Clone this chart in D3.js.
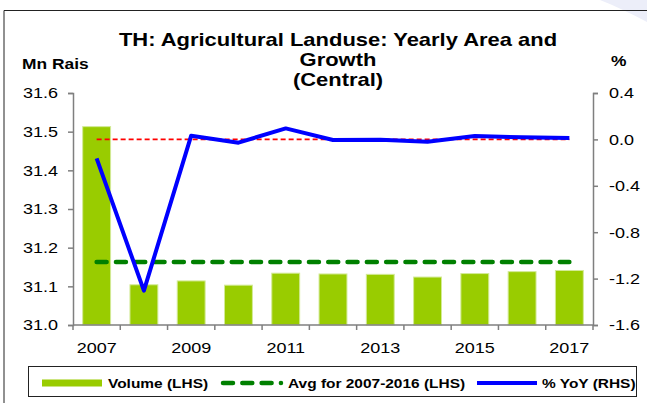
<!DOCTYPE html>
<html>
<head>
<meta charset="utf-8">
<script src="https://cdn.jsdelivr.net/npm/d3@7"></script>
<style>
  body { margin: 0; background: #fff; }
  svg { display: block; font-family: Arial, 'Liberation Sans', sans-serif; }
</style>
</head>
<body>
<svg width="647" height="403"></svg>
<script>
const years = [2007, 2008, 2009, 2010, 2011, 2012, 2013, 2014, 2015, 2016, 2017];
const volume = [31.513, 31.104, 31.114, 31.103, 31.134, 31.132, 31.131, 31.124, 31.133, 31.138, 31.141];
const yoy = [-0.163, -1.304, 0.032, -0.028, 0.095, -0.005, -0.002, -0.02, 0.03, 0.018, 0.011];
const avgVolume = 31.163;
const leftTicks = [31.0, 31.1, 31.2, 31.3, 31.4, 31.5, 31.6];
const rightTicks = [0.4, 0.0, -0.4, -0.8, -1.2, -1.6];
const yearLabels = [2007, 2009, 2011, 2013, 2015, 2017];

const barGreen = '#99cc00';
const avgGreen = '#008000';
const blue = '#0000ff';
const axisGrey = '#7f7f7f';

const svg = d3.select('svg');

// the source chart's text is drawn a bit wider than plain Arial
function stretch(sel, k) {
  sel.each(function () {
    const t = d3.select(this);
    t.attr('x', (+t.attr('x') || 0) / k).attr('transform', `scale(${k},1)`);
    t.selectAll('tspan').each(function () {
      const s = d3.select(this);
      if (s.attr('x') != null) s.attr('x', +s.attr('x') / k);
    });
  });
}

// page frame + corner decoration
svg.append('path')
  .attr('d', 'M600,0 L647,0 L647,22 C632,14 615,6 600,0 Z')
  .attr('fill', '#eceef9');
svg.append('path')
  .attr('d', 'M4,403 L4,10.5 L647,10.5')
  .attr('fill', 'none')
  .attr('stroke', '#222')
  .attr('stroke-width', 1);

const x = d3.scaleBand(years, [73, 593]).paddingInner(0.41).paddingOuter(0.205);
const yLeft = d3.scaleLinear([31.0, 31.6], [325, 93]);
const yRight = d3.scaleLinear([-1.6, 0.4], [325, 93]);
const cx = (d) => x(d) + x.bandwidth() / 2;
const fmt = (v) => d3.format('.1f')(v).replace('−', '-');

// bars
svg.append('g')
  .selectAll('rect')
  .data(years)
  .join('rect')
    .attr('x', (d) => x(d))
    .attr('y', (d, i) => yLeft(volume[i]))
    .attr('width', x.bandwidth())
    .attr('height', (d, i) => yLeft(31.0) - yLeft(volume[i]))
    .attr('fill', barGreen)
    .attr('stroke', '#d3ea96')
    .attr('stroke-width', 1);

// zero reference line (RHS)
svg.append('line')
  .attr('x1', cx(years[0]))
  .attr('x2', cx(years[years.length - 1]))
  .attr('y1', yRight(0))
  .attr('y2', yRight(0))
  .attr('stroke', '#ff0000')
  .attr('stroke-width', 1.8)
  .attr('stroke-dasharray', '5,3');

// average line (LHS)
svg.append('line')
  .attr('x1', cx(years[0]))
  .attr('x2', cx(years[years.length - 1]))
  .attr('y1', yLeft(avgVolume))
  .attr('y2', yLeft(avgVolume))
  .attr('stroke', avgGreen)
  .attr('stroke-width', 4.5)
  .attr('stroke-linecap', 'round')
  .attr('stroke-dasharray', '10,9.3');

// % yoy line
const yoyLine = d3.line()
  .x((d) => cx(d))
  .y((d, i) => yRight(yoy[i]));
svg.append('path')
  .attr('d', yoyLine(years))
  .attr('fill', 'none')
  .attr('stroke', blue)
  .attr('stroke-width', 4)
  .attr('stroke-linejoin', 'round');

// axes
const leftAxis = svg.append('g')
  .attr('transform', 'translate(73,0)')
  .call(d3.axisLeft(yLeft).tickValues(leftTicks).tickFormat(fmt).tickSizeOuter(0).tickSize(5).tickPadding(10));
const rightAxis = svg.append('g')
  .attr('transform', 'translate(593,0)')
  .call(d3.axisRight(yRight).tickValues(rightTicks).tickFormat(fmt).tickSizeOuter(0).tickSize(5).tickPadding(11));
const xAxis = svg.append('g')
  .attr('transform', 'translate(0,325)')
  .call(d3.axisBottom(x).tickValues(yearLabels).tickSize(0).tickPadding(17));
xAxis.select('.domain').remove();

// x ticks sit on band boundaries
svg.append('line')
  .attr('x1', 73).attr('x2', 593)
  .attr('y1', 325).attr('y2', 325)
  .attr('stroke', axisGrey).attr('stroke-width', 1.5);
svg.append('g')
  .selectAll('line')
  .data(d3.range(years.length + 1))
  .join('line')
    .attr('x1', (i) => x.range()[0] + i * x.step())
    .attr('x2', (i) => x.range()[0] + i * x.step())
    .attr('y1', 325).attr('y2', 330)
    .attr('stroke', axisGrey).attr('stroke-width', 1.5);

[leftAxis, rightAxis, xAxis].forEach((g) => {
  g.selectAll('.domain, line').attr('stroke', axisGrey).attr('stroke-width', 1.5);
  g.selectAll('text')
    .style('font-family', "Arial, 'Liberation Sans', sans-serif")
    .style('font-size', '15px')
    .attr('fill', '#000')
    .call(stretch, 1.2);
});

// titles
const title = svg.append('text')
  .attr('text-anchor', 'middle')
  .style('font-weight', 'bold')
  .style('font-size', '18px');
['TH: Agricultural Landuse: Yearly Area and', 'Growth', '(Central)'].forEach((t, i) => {
  title.append('tspan').attr('x', 338).attr('y', 46 + i * 20).text(t);
});
title.call(stretch, 1.22);
svg.append('text')
  .attr('x', 22).attr('y', 69)
  .style('font-weight', 'bold').style('font-size', '14.5px')
  .text('Mn Rais')
  .call(stretch, 1.2);
svg.append('text')
  .attr('x', 611).attr('y', 66)
  .style('font-weight', 'bold').style('font-size', '14.5px')
  .text('%')
  .call(stretch, 1.2);

// legend
const legend = svg.append('g');
legend.append('rect')
  .attr('x', 28.5).attr('y', 366.5)
  .attr('width', 608).attr('height', 30)
  .attr('fill', '#fff').attr('stroke', '#222').attr('stroke-width', 1);
legend.append('line')
  .attr('x1', 42).attr('x2', 102).attr('y1', 383).attr('y2', 383)
  .attr('stroke', barGreen).attr('stroke-width', 7);
legend.append('line')
  .attr('x1', 223).attr('x2', 281).attr('y1', 383).attr('y2', 383)
  .attr('stroke', avgGreen).attr('stroke-width', 4.5)
  .attr('stroke-linecap', 'round').attr('stroke-dasharray', '10,9.3');
legend.append('line')
  .attr('x1', 477).attr('x2', 537).attr('y1', 383).attr('y2', 383)
  .attr('stroke', blue).attr('stroke-width', 4);
[['Volume (LHS)', 108], ['Avg for 2007-2016 (LHS)', 288], ['% YoY (RHS)', 542]].forEach(([t, lx]) => {
  legend.append('text')
    .attr('x', lx).attr('y', 388)
    .style('font-weight', 'bold').style('font-size', '13px')
    .text(t)
    .call(stretch, 1.19);
});
</script>
</body>
</html>
